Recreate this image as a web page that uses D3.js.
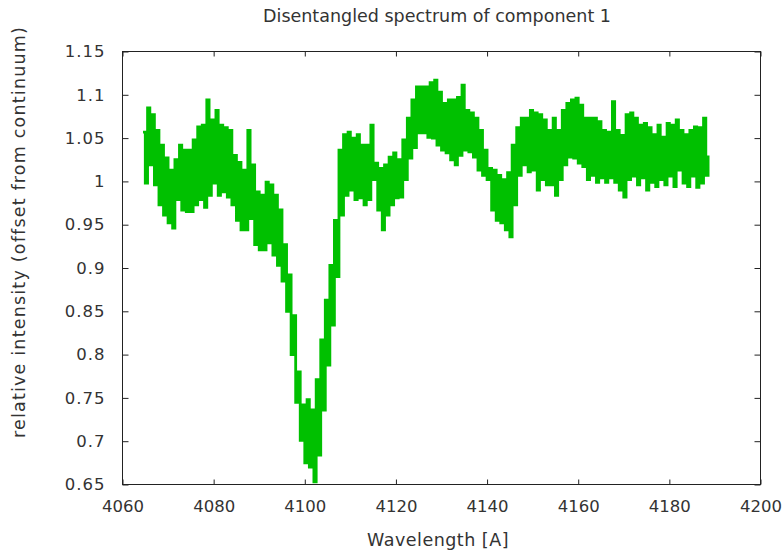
<!DOCTYPE html>
<html>
<head>
<meta charset="utf-8">
<script src="https://cdn.jsdelivr.net/npm/d3@7"></script>
<style>
  html, body { margin: 0; padding: 0; background: #fff; }
  text { font-family: "DejaVu Sans", sans-serif; fill: #333; }
</style>
</head>
<body>
<svg id="chart" width="782" height="552"></svg>
<script>
// ---- data ----
const titleText = "Disentangled spectrum of component 1";
const xLabelText = "Wavelength [A]";
const yLabelText = "relative intensity (offset from continuum)";
const xTicks = [4060, 4080, 4100, 4120, 4140, 4160, 4180, 4200];
const xTickLabels = ["4060", "4080", "4100", "4120", "4140", "4160", "4180", "4200"];
const yTicks = [0.65, 0.7, 0.75, 0.8, 0.85, 0.9, 0.95, 1.0, 1.05, 1.1, 1.15];
const yTickLabels = ["0.65", "0.7", "0.75", "0.8", "0.85", "0.9", "0.95", "1", "1.05", "1.1", "1.15"];
const waveStart = 4064.5;   // first sample wavelength [A]
const waveStep = 0.5;       // sampling step [A]
// flux samples, consecutive pairs per 1 A
const flux = [
  1.057, 0.998, 1.085, 1.019, 1.077, 0.996, 1.059, 0.973, 1.042, 0.961,
  1.027, 0.952, 1.013, 0.946, 1.025, 0.979, 1.042, 0.967, 1.036, 0.965,
  1.036, 0.965, 1.048, 0.973, 1.063, 0.979, 1.065, 0.970, 1.094, 0.984,
  1.071, 0.998, 1.082, 0.984, 1.065, 0.988, 1.062, 0.982, 1.059, 0.973,
  1.030, 0.955, 1.022, 0.944, 1.013, 0.944, 1.059, 0.957, 1.019, 0.927,
  0.988, 0.921, 0.984, 0.921, 0.999, 0.929, 0.996, 0.915, 0.984, 0.903,
  0.967, 0.885, 0.927, 0.850, 0.892, 0.800, 0.845, 0.745, 0.780, 0.701,
  0.742, 0.675, 0.748, 0.670, 0.736, 0.653, 0.771, 0.684, 0.817, 0.736,
  0.863, 0.788, 0.903, 0.834, 0.955, 0.890, 1.036, 0.961, 1.054, 0.984,
  1.057, 0.990, 1.050, 0.979, 1.054, 0.981, 1.042, 0.973, 1.042, 0.979,
  1.065, 1.002, 1.021, 0.967, 1.015, 0.944, 1.019, 0.961, 1.028, 0.973,
  1.033, 0.981, 1.025, 0.982, 1.048, 1.002, 1.073, 1.027, 1.094, 1.039,
  1.109, 1.056, 1.109, 1.056, 1.109, 1.051, 1.114, 1.050, 1.117, 1.042,
  1.103, 1.036, 1.090, 1.033, 1.094, 1.025, 1.094, 1.019, 1.097, 1.030,
  1.111, 1.036, 1.082, 1.034, 1.079, 1.028, 1.073, 1.013, 1.059, 1.007,
  1.036, 1.002, 1.015, 0.967, 1.013, 0.955, 1.007, 0.952, 1.002, 0.944,
  1.010, 0.936, 1.042, 0.973, 1.062, 1.007, 1.073, 1.019, 1.073, 1.011,
  1.082, 1.013, 1.079, 0.990, 1.077, 1.002, 1.071, 0.996, 1.059, 0.996,
  1.073, 0.984, 1.059, 1.002, 1.082, 1.019, 1.090, 1.028, 1.094, 1.027,
  1.096, 1.021, 1.088, 1.017, 1.073, 1.002, 1.073, 1.007, 1.073, 0.999,
  1.069, 1.004, 1.059, 0.999, 1.057, 1.004, 1.092, 0.999, 1.059, 0.990,
  1.053, 0.982, 1.077, 1.002, 1.079, 1.006, 1.073, 0.996, 1.065, 1.004,
  1.067, 0.990, 1.062, 0.999, 1.054, 0.994, 1.065, 1.002, 1.051, 0.996,
  1.067, 1.006, 1.065, 0.994, 1.071, 1.013, 1.059, 0.998, 1.054, 0.994,
  1.059, 1.006, 1.063, 0.993, 1.062, 0.998, 1.073, 1.007, 1.030
];

// ---- layout ----
const W = 782, H = 552;
const plotL = 122.5, plotR = 760.5, plotT = 51.5, plotB = 484.5;

const svg = d3.select("#chart");
svg.append("rect").attr("width", W).attr("height", H).attr("fill", "#fff");

const x = d3.scaleLinear().domain([4060, 4200]).range([plotL, plotR]);
const y = d3.scaleLinear().domain([0.65, 1.15]).range([plotB, plotT]);

const points = flux.map((v, i) => [waveStart + i * waveStep, v]);

// data line (steps)
const line = d3.line()
  .x(d => x(d[0]))
  .y(d => y(d[1]))
  .curve(d3.curveStepAfter);

svg.append("path")
  .datum(points)
  .attr("d", line)
  .attr("fill", "none")
  .attr("stroke", "#00c000")
  .attr("stroke-width", 2.8)
  .attr("stroke-linejoin", "miter");

// axes (gnuplot style: inward ticks, mirrored)
const axisColor = "#222";
const tickFont = 16.5;

const gx = svg.append("g").attr("transform", `translate(0,${plotB})`)
  .call(d3.axisBottom(x).tickValues(xTicks).tickSizeInner(-5).tickSizeOuter(0)
    .tickFormat((d, i) => xTickLabels[i]));
gx.select(".domain").remove();
gx.selectAll(".tick line").attr("stroke", axisColor);
gx.selectAll(".tick text").attr("y", 16).attr("dy", "0.71em")
  .style("font-size", tickFont + "px").style("font-family", "DejaVu Sans").attr("fill", "#333");

const gxt = svg.append("g").attr("transform", `translate(0,${plotT})`)
  .call(d3.axisTop(x).tickValues(xTicks).tickSizeInner(-5).tickSizeOuter(0).tickFormat(""));
gxt.select(".domain").remove();
gxt.selectAll(".tick line").attr("stroke", axisColor);

const gy = svg.append("g").attr("transform", `translate(${plotL},0)`)
  .call(d3.axisLeft(y).tickValues(yTicks).tickSizeInner(-6).tickSizeOuter(0)
    .tickFormat((d, i) => yTickLabels[i]));
gy.select(".domain").remove();
gy.selectAll(".tick line").attr("stroke", axisColor);
gy.selectAll(".tick text").attr("x", -17)
  .style("font-size", tickFont + "px").style("font-family", "DejaVu Sans")
  .style("letter-spacing", "1px").attr("fill", "#333");

const gyr = svg.append("g").attr("transform", `translate(${plotR},0)`)
  .call(d3.axisRight(y).tickValues(yTicks).tickSizeInner(-6).tickSizeOuter(0).tickFormat(""));
gyr.select(".domain").remove();
gyr.selectAll(".tick line").attr("stroke", axisColor);

// border
svg.append("rect")
  .attr("x", plotL).attr("y", plotT)
  .attr("width", plotR - plotL).attr("height", plotB - plotT)
  .attr("fill", "none").attr("stroke", axisColor).attr("stroke-width", 1);

// title and labels
svg.append("text")
  .attr("x", 437).attr("y", 22)
  .attr("text-anchor", "middle")
  .style("font-size", "17.5px")
  .text(titleText);

svg.append("text")
  .attr("x", 438).attr("y", 546)
  .attr("text-anchor", "middle")
  .style("font-size", "17.5px")
  .style("letter-spacing", "0.5px")
  .text(xLabelText);

svg.append("text")
  .attr("transform", `translate(25,232) rotate(-90)`)
  .attr("text-anchor", "middle")
  .style("font-size", "17.5px")
  .style("letter-spacing", "1.2px")
  .text(yLabelText);
</script>
</body>
</html>
